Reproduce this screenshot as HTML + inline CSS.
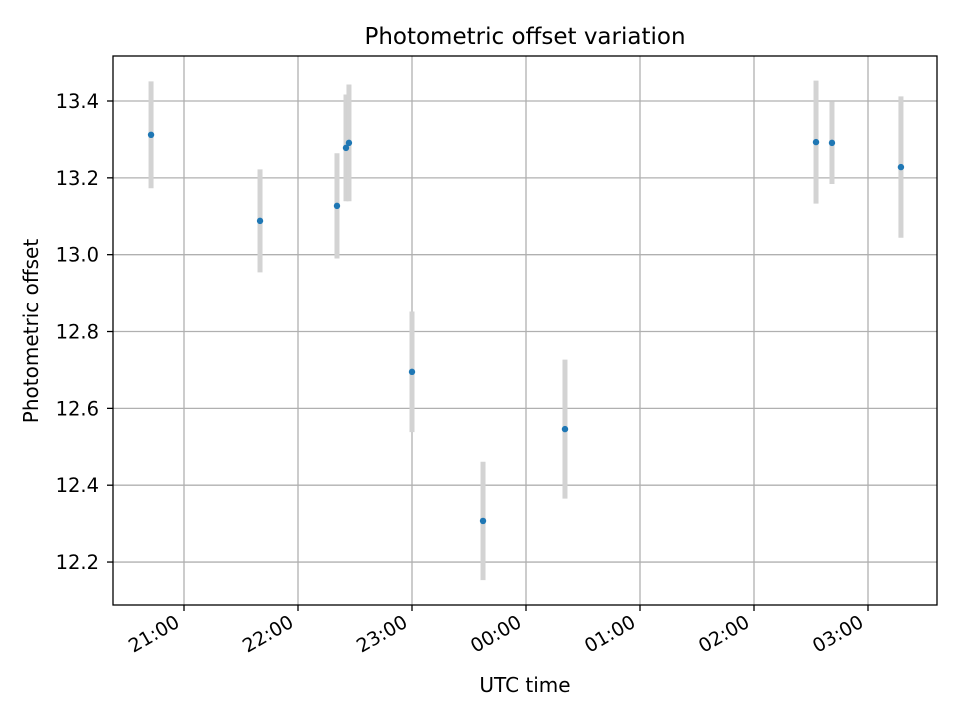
<!DOCTYPE html>
<html><head><meta charset="utf-8"><style>
body{margin:0;background:#fff}
svg text{font-family:"DejaVu Sans","Liberation Sans",sans-serif;fill:#000}
</style></head><body>
<svg id="c" width="960" height="720" xmlns="http://www.w3.org/2000/svg">
<rect width="960" height="720" fill="#fff"/>
<g id="grid"></g>
<g id="bars"></g>
<g id="pts"></g>
<rect x="113" y="56" width="824" height="549" fill="none" stroke="#000" stroke-width="1.3"/>
<g id="ticks"></g>
<text x="525" y="44" font-size="23" text-anchor="middle">Photometric offset variation</text>
<text x="525" y="692" font-size="20" text-anchor="middle">UTC time</text>
<text transform="translate(38,331) rotate(-90)" font-size="20" text-anchor="middle">Photometric offset</text>
</svg>
<script>
// hours since 21:00 UTC
const times = [-0.289, 0.667, 1.342, 1.421, 1.447, 2.0, 2.623, 3.342, 5.544, 5.684, 6.289];
const offsets = [13.312, 13.088, 13.127, 13.278, 13.291, 12.695, 12.307, 12.546, 13.293, 13.291, 13.228];
const errors = [0.139, 0.134, 0.137, 0.139, 0.152, 0.157, 0.154, 0.181, 0.160, 0.107, 0.184];
const xTicks = [0, 1, 2, 3, 4, 5, 6];
const xTickLabels = ["21:00", "22:00", "23:00", "00:00", "01:00", "02:00", "03:00"];
const yTicks = [12.2, 12.4, 12.6, 12.8, 13.0, 13.2, 13.4];

const X = h => 184 + h * 114;
const Y = v => 101 + (13.4 - v) * 384.2;
const NS = "http://www.w3.org/2000/svg";
function mk(tag, attrs, parent) {
  const e = document.createElementNS(NS, tag);
  for (const k in attrs) e.setAttribute(k, attrs[k]);
  document.getElementById(parent).appendChild(e);
  return e;
}
xTicks.forEach((t, i) => {
  const x = X(t);
  const g = mk("line", {x1: x, x2: x, y1: 56, y2: 605, stroke: "#b0b0b0", "stroke-width": 1.3}, "grid");
  
  
  const tk = mk("line", {x1: x, x2: x, y1: 605, y2: 611, stroke: "#000", "stroke-width": 1.3}, "ticks");
  
  
  const tx = mk("text", {transform: `translate(${x - 10},${614}) rotate(-30)`, "font-size": 19, "text-anchor": "end", "dominant-baseline": "hanging"}, "ticks");
  tx.textContent = xTickLabels[i];
  
  
});
yTicks.forEach(v => {
  const y = Y(v);
  const g = mk("line", {x1: 113, x2: 937, y1: y, y2: y, stroke: "#b0b0b0", "stroke-width": 1.3}, "grid");
  
  
  const tk = mk("line", {x1: 107, x2: 113, y1: y, y2: y, stroke: "#000", "stroke-width": 1.3}, "ticks");
  
  
  const tx = mk("text", {x: 99, y: y + 7, "font-size": 19.5, "text-anchor": "end"}, "ticks");
  tx.textContent = v.toFixed(1);
  
  
});
times.forEach((t, i) => {
  const x = X(t);
  const b = mk("line", {x1: x, x2: x, y1: Y(offsets[i] + errors[i]), y2: Y(offsets[i] - errors[i]), stroke: "#d3d3d3", "stroke-width": 5}, "bars");
  
  
  const p = mk("circle", {cx: x, cy: Y(offsets[i]), r: 3.2, fill: "#1f77b4"}, "pts");
  
  
});
</script>
</body></html>
